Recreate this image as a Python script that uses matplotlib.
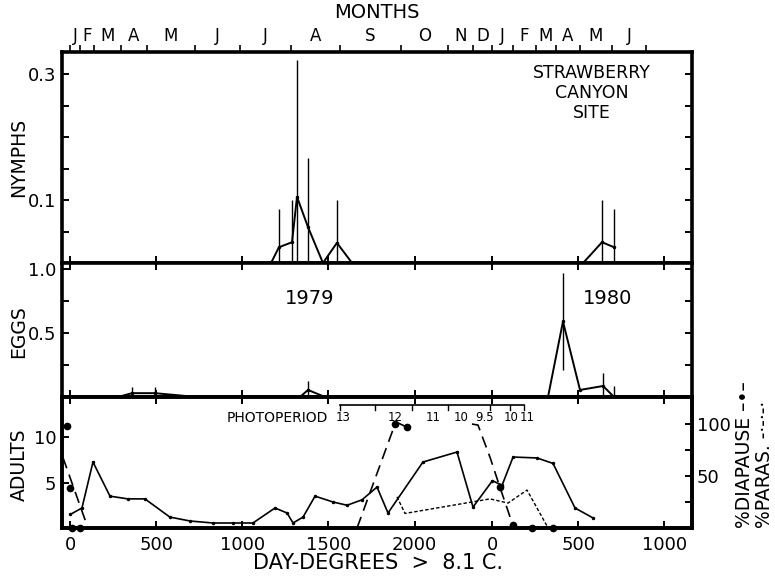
import matplotlib.pyplot as plt
import numpy as np

plt.rcParams['font.family'] = 'DejaVu Sans'

# day-degree count restarts on 1 Jan 1980; this is the 1979 total
YEAR_OFFSET = 2453

# ---- data (day-degrees > 8.1 C) ----
nymph_dd_1979 = [1166, 1212, 1288, 1317, 1381, 1468, 1549, 1637]
nymph_1979 = [0, 0.025, 0.033, 0.105, 0.057, 0, 0.032, 0]
nymph_err_1979 = [0, 0.061, 0.067, 0.217, 0.11, 0, 0.068, 0]
nymph_dd_1980 = [527, 637, 707]
nymph_1980 = [0, 0.033, 0.025]
nymph_err_1980 = [0, 0.067, 0.061]

egg_dd_1979 = [276, 358, 491, 735, 1334, 1381, 1480]
egg_1979 = [0, 0.03, 0.03, 0, 0, 0.055, 0]
egg_err_1979 = [0, 0.05, 0.05, 0, 0, 0.07, 0]
egg_dd_1980 = [323, 410, 509, 643, 707]
egg_1980 = [0, 0.59, 0.055, 0.086, 0]
egg_err_1980 = [0, 0.38, 0, 0.1, 0.086]

adult_dd_1979 = [0, 67, 131, 230, 334, 433, 578, 695, 828, 945, 1061, 1189,
                 1259, 1294, 1352, 1422, 1526, 1608, 1695, 1782, 1846, 2049,
                 2247, 2340]
adult_1979 = [1.5, 2.2, 7.25, 3.5, 3.2, 3.2, 1.2, 0.77, 0.55, 0.55, 0.55, 2.2,
              1.65, 0.55, 1.2, 3.5, 2.86, 2.5, 3.1, 4.5, 1.65, 7.25, 8.35, 2.3]
adult_dd_1980 = [0, 56, 120, 259, 352, 480, 585]
adult_1980 = [5.2, 4.7, 7.8, 7.7, 7.1, 2.2, 1.1]

# % diapause: three dashed pieces plus the sample dots
diap_a_dd = [-44, 102]
diap_a = [68, 0]
diap_b_dd = [1560, 1666, 1887, 1905, 1956]
diap_b = [0, 0, 100, 101, 97]
diap_c_dd_1979 = [2334, 2369, 2439]
diap_c_1979 = [100, 99, 68]
diap_c_dd_1980 = [44, 120, 140]
diap_c_1980 = [39, 2, 0]
diap_dot_dd_1979 = [-20, -3, 9, 55, 1887, 1956]
diap_dot_1979 = [98, 38, 0, 0, 100, 97]
diap_dot_dd_1980 = [44, 120, 230, 352]
diap_dot_1980 = [39, 3, 0, 0]

# % parasitism
para_dd_1979 = [1898, 1945, 2439]
para_1979 = [30, 14, 28]
para_dd_1980 = [91, 201, 317]
para_1980 = [24, 36.5, 2]

# photoperiod (hours of light)
photo_labels = ['13', '12', '11', '10', '9.5', '10', '11']
photo_dd_1979 = [1585, 1887, 2108, 2270, 2410]
photo_dd_1980 = [110, 204]
photo_tick_dd = [1567, 1770, 1985, 2195, 2439, 2555, 2637]

# month boundaries (first of month) in day-degrees
month_names = ['J', 'F', 'M', 'A', 'M', 'J', 'J', 'A', 'S', 'O', 'N', 'D',
               'J', 'F', 'M', 'A', 'M', 'J']
month_start_1979 = [0, 55, 137, 294, 445, 724, 985, 1282, 1567, 1922, 2195, 2340]
month_start_1980 = [0, 120, 253, 370, 509, 695, 893]

dd_tick_1979 = [0, 500, 1000, 1500, 2000]
dd_tick_1980 = [0, 500, 1000]


def cum(dd79, dd80):
    return np.concatenate([np.asarray(dd79, float),
                           np.asarray(dd80, float) + YEAR_OFFSET])


W, H = 775, 578


def box(l, t, r, b):
    return [l / W, 1 - b / H, (r - l) / W, (b - t) / H]


fig = plt.figure(figsize=(W / 100, H / 100), dpi=100)
ax_n = fig.add_axes(box(62, 52, 692, 263))
ax_e = fig.add_axes(box(62, 263, 692, 397), sharex=ax_n)
ax_a = fig.add_axes(box(62, 397, 692, 528), sharex=ax_n)

tick_pos = cum(dd_tick_1979, dd_tick_1980)
tick_lab = [str(v) for v in dd_tick_1979 + dd_tick_1980]

for ax in (ax_n, ax_e, ax_a):
    for sp in ax.spines.values():
        sp.set_linewidth(2.6)
    ax.set_xlim(-49, 3613)
    ax.set_xticks(tick_pos)
    ax.tick_params(direction='in', length=5, width=1.4, labelsize=13,
                   top=True, right=True, pad=4)
ax_n.tick_params(labelbottom=False)
ax_e.tick_params(labelbottom=False)
ax_a.set_xticklabels(tick_lab)
ax_a.tick_params(right=False)
ax_a.tick_params(axis='x', pad=6)


def bars(ax, x, y, err):
    y = np.asarray(y, float)
    err = np.asarray(err, float)
    lower = np.minimum(err, y)
    ax.plot(x, y, '-', color='k', lw=1.4, marker='.', ms=3)
    m = err > 0
    ax.errorbar(np.asarray(x)[m], y[m], yerr=[lower[m], err[m]], fmt='none',
                ecolor='k', elinewidth=1.0, capsize=0)


# nymphs
bars(ax_n, np.asarray(nymph_dd_1979, float), nymph_1979, nymph_err_1979)
bars(ax_n, np.asarray(nymph_dd_1980, float) + YEAR_OFFSET, nymph_1980, nymph_err_1980)
ax_n.set_ylim(0, 0.335)
ax_n.set_yticks([0.05, 0.1, 0.15, 0.2, 0.25, 0.3])
ax_n.set_yticklabels(['', '0.1', '', '', '', '0.3'])
ax_n.text(3030, 0.27, 'STRAWBERRY\nCANYON\nSITE', ha='center', va='center',
          fontsize=12.5, linespacing=1.15)

# eggs
bars(ax_e, np.asarray(egg_dd_1979, float), egg_1979, egg_err_1979)
bars(ax_e, np.asarray(egg_dd_1980, float) + YEAR_OFFSET, egg_1980, egg_err_1980)
ax_e.set_ylim(0, 1.047)
ax_e.set_yticks([0.25, 0.5, 0.75, 1.0])
ax_e.set_yticklabels(['', '0.5', '', '1.0'])
ax_e.text(1393, 0.77, '1979', ha='center', va='center', fontsize=14)
ax_e.text(3120, 0.77, '1980', ha='center', va='center', fontsize=14)

# adults
ax_a.plot(cum(adult_dd_1979, adult_dd_1980), adult_1979 + adult_1980, '-',
          color='k', lw=1.2, marker='.', ms=3)
ax_a.set_ylim(0, 14.4)
ax_a.set_yticks([5, 10])

ax_r = ax_a.twinx()
ax_r.set_ylim(0, 126)
ax_r.set_yticks([25, 50, 75, 100])
ax_r.set_yticklabels(['', '50', '', '100'])
ax_r.tick_params(direction='in', length=5, width=1.4, labelsize=13)
for sp in ax_r.spines.values():
    sp.set_linewidth(2.6)

dash = (0, (7, 4))
ax_r.plot(diap_a_dd, diap_a, color='k', lw=1.2, ls=dash)
ax_r.plot(diap_b_dd, diap_b, color='k', lw=1.2, ls=dash)
ax_r.plot(cum(diap_c_dd_1979, diap_c_dd_1980), diap_c_1979 + diap_c_1980,
          color='k', lw=1.2, ls=dash)
ax_r.plot(cum(diap_dot_dd_1979, diap_dot_dd_1980), diap_dot_1979 + diap_dot_1980,
          'o', color='k', ms=4.5, clip_on=False)
ax_r.plot(cum(para_dd_1979, para_dd_1980), para_1979 + para_1980, color='k',
          lw=1.0, ls=(0, (2.5, 1.5)))

# photoperiod scale
py = 13.5
photo_pos = cum(photo_dd_1979, photo_dd_1980)
ax_a.plot([photo_tick_dd[0], photo_tick_dd[-1]], [py, py], color='k', lw=1.2)
for t in photo_tick_dd:
    ax_a.plot([t, t], [py, py - 0.5], color='k', lw=1.0)
for lab, x in zip(photo_labels, photo_pos):
    ax_a.text(x, 12.1, lab, ha='center', va='center', fontsize=8.5)
ax_a.text(1200, 12.1, 'PHOTOPERIOD', ha='center', va='center', fontsize=10)

# months on top
ax_m = ax_n.twiny()
ax_m.set_xlim(ax_n.get_xlim())
bounds = cum(month_start_1979, month_start_1980)
ax_m.set_xticks(bounds, minor=True)
ax_m.set_xticks((bounds[:-1] + bounds[1:]) / 2)
ax_m.set_xticklabels(month_names)
ax_m.tick_params(which='minor', direction='out', length=5, width=1.2)
ax_m.tick_params(which='major', length=0, labelsize=12, pad=5)
for sp in ax_m.spines.values():
    sp.set_visible(False)

fig.text(377 / W, 1 - 12 / H, 'MONTHS', ha='center', va='center', fontsize=14)
fig.text(19 / W, 1 - 157 / H, 'NYMPHS', ha='center', va='center', rotation=90, fontsize=13.5)
fig.text(19 / W, 1 - 332 / H, 'EGGS', ha='center', va='center', rotation=90, fontsize=13.5)
fig.text(19 / W, 1 - 465 / H, 'ADULTS', ha='center', va='center', rotation=90, fontsize=13.5)
fig.text(378 / W, 1 - 563 / H, 'DAY-DEGREES  >  8.1 C.', ha='center', va='center',
         fontsize=15)
fig.text(745 / W, 1 - 528 / H, '%DIAPAUSE \u2013\u2022\u2013', ha='center', va='bottom',
         rotation=90, fontsize=13.5)
fig.text(764 / W, 1 - 528 / H, '%PARAS. -\u00b7-\u00b7-\u00b7', ha='center', va='bottom',
         rotation=90, fontsize=13.5)

fig.savefig('out.png', dpi=100)
